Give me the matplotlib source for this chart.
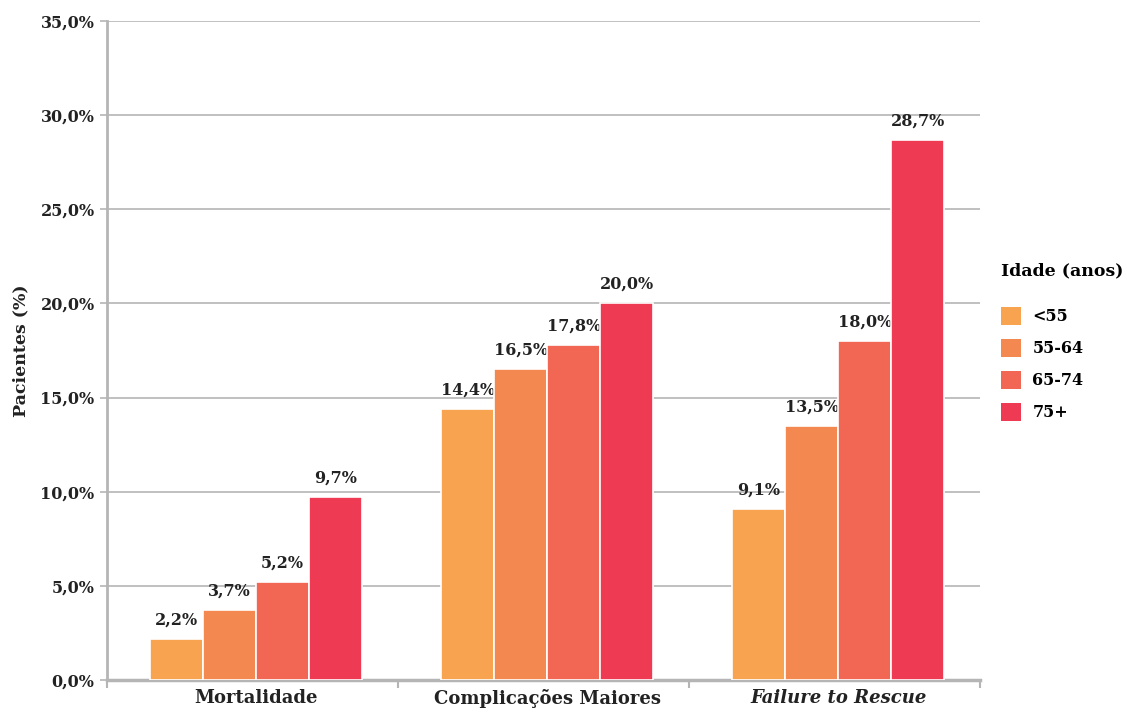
import matplotlib.pyplot as plt
import numpy as np

plt.rcParams['font.family'] = ['DejaVu Serif']

categories = ["Mortalidade", "Complicações Maiores", "Failure to Rescue"]
groups = ["<55", "55-64", "65-74", "75+"]
values = {
    "<55": [2.2, 14.4, 9.1],
    "55-64": [3.7, 16.5, 13.5],
    "65-74": [5.2, 17.8, 18.0],
    "75+": [9.7, 20.0, 28.7],
}
colors = ['#F7A350', '#F48851', '#F26754', '#EE3B53']

fig = plt.figure(figsize=(11.27, 7.13), dpi=100)
ax = fig.add_axes([0.095, 0.0463, 0.775, 0.9242])

x = np.arange(len(categories)) + 0.012
width = 0.182
for i, g in enumerate(groups):
    pos = x + (i - 1.5) * width
    bars = ax.bar(pos, values[g], width, color=colors[i], edgecolor='white',
                  linewidth=1.2, label=g, zorder=3)
    for b, v in zip(bars, values[g]):
        ax.text(b.get_x() + b.get_width() / 2, v + 0.55,
                f"{v:.1f}%".replace('.', ','), ha='center', va='bottom',
                fontsize=11.5, fontweight='bold', color='#222222')

ax.set_xlim(-0.5, 2.5)
ax.set_ylim(0, 35)
ax.set_yticks(np.arange(0, 36, 5))
ax.set_yticklabels([f"{t:.1f}%".replace('.', ',') for t in np.arange(0, 36, 5)],
                   fontsize=11.5, fontweight='bold', color='#222222')
ax.yaxis.grid(True, color='#b5b5b5', linewidth=1.2, zorder=0)

ax.set_xticks([-0.5, 0.5, 1.5, 2.5])
ax.set_xticklabels([])
ax.tick_params(axis='x', length=6, color='#b5b5b5', width=1.5)
ax.tick_params(axis='y', length=5, color='#b5b5b5', width=1.2, pad=4)
for i, c in enumerate(categories):
    ax.text(x[i], -0.014, c, transform=ax.get_xaxis_transform(),
            ha='center', va='top', fontsize=13, fontweight='bold',
            style='italic' if i == 2 else 'normal', color='#222222')

for s in ['top', 'right']:
    ax.spines[s].set_visible(False)
ax.spines['left'].set_color('#b5b5b5')
ax.spines['left'].set_linewidth(2)
ax.spines['bottom'].set_color('#b5b5b5')
ax.spines['bottom'].set_linewidth(2.5)

ax.set_ylabel("Pacientes (%)", fontsize=12.5, fontweight='bold', color='#222222',
              labelpad=8)

leg = ax.legend(title="Idade (anos)", loc='center left',
                bbox_to_anchor=(1.012, 0.513), frameon=False,
                prop={'size': 11.5, 'weight': 'bold'},
                handlelength=1.3, handleheight=1.3, labelspacing=0.87,
                handletextpad=0.7, borderaxespad=0.2)
leg.get_title().set_fontsize(12.5)
leg.get_title().set_fontweight('bold')
leg._legend_box.align = 'left'
leg._legend_box.sep = 20
for h in leg.legend_handles:
    h.set_edgecolor('none')

fig.savefig('out.png', dpi=100)
